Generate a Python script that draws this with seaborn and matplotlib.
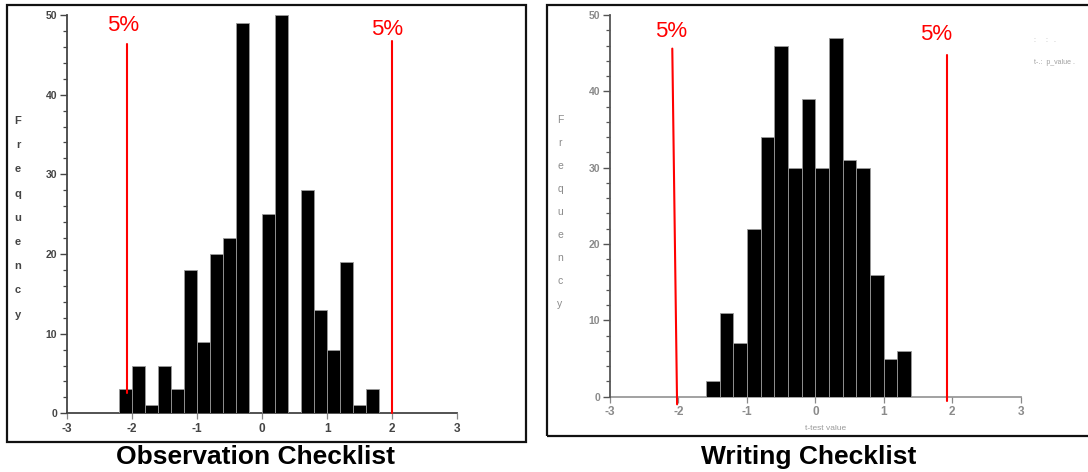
import numpy as np
import pandas as pd
import matplotlib
matplotlib.use("Agg")
import matplotlib.pyplot as plt
from matplotlib.patches import Rectangle
import seaborn as sns

# ---------------- data ----------------
obs_edges = [-2.2, -2.0, -1.8, -1.6, -1.4, -1.2, -1.0, -0.8, -0.6, -0.4, -0.2,
             0.0, 0.2, 0.4, 0.6, 0.8, 1.0, 1.2, 1.4, 1.6, 1.8]
obs_counts = [3, 6, 1, 6, 3, 18, 9, 20, 22, 49, 0, 25, 50, 0, 28, 13, 8, 19, 1, 3]

wri_edges = [-1.6, -1.4, -1.2, -1.0, -0.8, -0.6, -0.4, -0.2, 0.0, 0.2, 0.4,
             0.6, 0.8, 1.0, 1.2, 1.4]
wri_counts = [2, 11, 7, 22, 34, 46, 30, 39, 30, 47, 31, 30, 16, 5, 6]

# 5% critical lines: (x_top, y_top, x_bottom, y_bottom)
obs_crit = [(-2.08, 46.4, -2.08, 2.5), (2.0, 46.7, 2.0, 0.0)]
wri_crit = [(-2.09, 45.6, -2.02, -1.0), (1.93, 44.8, 1.93, -0.6)]
obs_labels_pos = [(-2.14, 47.4), (1.92, 46.8)]
wri_labels_pos = [(-2.11, 46.4), (1.77, 46.1)]

x_ticks = [-3, -2, -1, 0, 1, 2, 3]
y_ticks = [0, 10, 20, 30, 40, 50]
titles = ["Observation Checklist", "Writing Checklist"]
ylab = "Frequency"

# ---------------- figure ----------------
sns.set_theme(style="white")
plt.rcParams['font.family'] = ['Liberation Sans', 'DejaVu Sans']

W, H = 1088, 472
fig = plt.figure(figsize=(W / 100, H / 100), dpi=100)
fig.patch.set_facecolor("white")


def px_axes(x0, x1, ybot, ytop):
    return fig.add_axes([x0 / W, 1 - ybot / H, (x1 - x0) / W, (ybot - ytop) / H])


def draw_panel(ax, edges, counts, crit, lab_pos, tick_color, spine_x_color, spine_y_color):
    mids = [(a + b) / 2 for a, b in zip(edges[:-1], edges[1:])]
    df = pd.DataFrame({"t": mids, "n": counts})
    sns.histplot(data=df, x="t", weights="n", bins=edges, ax=ax,
                 color="black", edgecolor="#9a9a9a", linewidth=0.6, alpha=1.0)
    ax.set_xlim(-3, 3)
    ax.set_ylim(0, 50)
    ax.set_xlabel("")
    ax.set_ylabel("")
    ax.set_facecolor("none")
    for s in ["top", "right"]:
        ax.spines[s].set_visible(False)
    ax.spines["bottom"].set_color(spine_x_color)
    ax.spines["left"].set_color(spine_y_color)
    ax.spines["bottom"].set_linewidth(1.3)
    ax.spines["left"].set_linewidth(1.3)
    ax.spines["bottom"].set_zorder(0.5)
    ax.set_xticks(x_ticks)
    ax.set_xticklabels([str(v) for v in x_ticks])
    ax.set_yticks(y_ticks)
    ax.set_yticklabels([str(v) for v in y_ticks])
    ax.set_yticks(np.arange(0, 51, 2), minor=True)
    ax.tick_params(axis="y", which="major", direction="out", length=5, width=1.0,
                   color=spine_y_color, labelsize=7.5, labelcolor=tick_color, pad=2,
                   left=True)
    ax.tick_params(axis="y", which="minor", direction="out", length=3, width=0.9,
                   color=spine_y_color, left=True)
    ax.tick_params(axis="x", which="major", direction="out", length=4, width=0.9,
                   color="#888888", labelsize=8.5, labelcolor=tick_color, pad=3,
                   bottom=True)
    for lbl in ax.get_xticklabels() + ax.get_yticklabels():
        lbl.set_fontweight("bold")
    for (xt, yt, xb, yb) in crit:
        ax.plot([xt, xb], [yt, yb], color="#ff0000", lw=1.5, clip_on=False, zorder=5)
    for (xl, yl) in lab_pos:
        ax.text(xl, yl, "5%", color="#ff0000", fontsize=16, ha="center",
                va="bottom", clip_on=False)


axL = px_axes(66.7, 457.3, 413.3, 15)
draw_panel(axL, obs_edges, obs_counts, obs_crit, obs_labels_pos,
           "#444444", "#444444", "#444444")

axR = px_axes(610, 1020.7, 396.7, 15)
draw_panel(axR, wri_edges, wri_counts, wri_crit, wri_labels_pos,
           "#8a8a8a", "#9a9a9a", "#555555")

# stacked "Frequency" letters
for i, ch in enumerate(ylab):
    fig.text(18 / W, 1 - (121 + i * 24.2) / H, ch, fontsize=8, fontweight="bold",
             color="#444444", ha="center", va="center")
    fig.text(560 / W, 1 - (120 + i * 23.0) / H, ch, fontsize=7.5, color="#8a8a8a",
             ha="center", va="center")

# faint x-label and legend in right panel
fig.text(826 / W, 1 - 428 / H, "t-test value", fontsize=6, color="#9a9a9a",
         ha="center", va="center")
fig.text(1034 / W, 1 - 40 / H, ":     :   .", fontsize=5, color="#b0b0b0",
         ha="left", va="center")
fig.text(1034 / W, 1 - 62 / H, "t-.:  p_value .", fontsize=5, color="#a0a0a0",
         ha="left", va="center")

# frames
fig.patches.append(Rectangle((7 / W, 1 - 442 / H), 519 / W, 437 / H,
                             transform=fig.transFigure, fill=False,
                             edgecolor="#111111", linewidth=1.6, zorder=0))
fig.patches.append(Rectangle((547 / W, 1 - 436 / H), 545 / W, 431 / H,
                             transform=fig.transFigure, fill=False,
                             edgecolor="#111111", linewidth=1.6, zorder=0))

# titles
fig.text(256 / W, 1 - 457 / H, titles[0], fontsize=19, fontweight="bold",
         color="black", ha="center", va="center")
fig.text(809 / W, 1 - 457 / H, titles[1], fontsize=19, fontweight="bold",
         color="black", ha="center", va="center")

fig.savefig("out.png", dpi=100, facecolor="white")
